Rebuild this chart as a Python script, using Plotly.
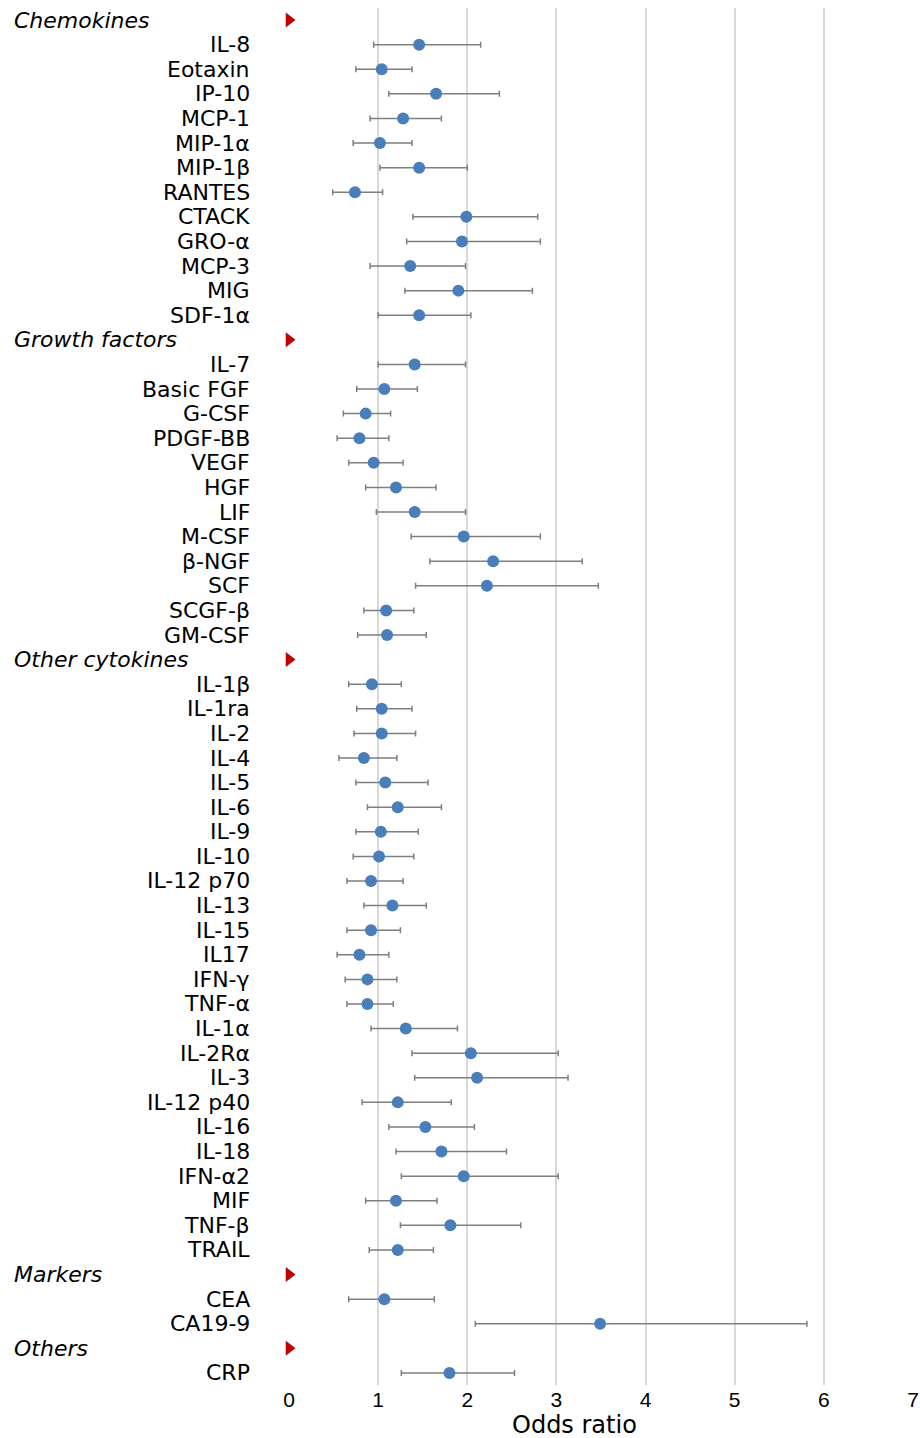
import plotly.graph_objects as go

# ---- data ----
groups = ["Chemokines", "Growth factors", "Other cytokines", "Markers", "Others"]

chemokines = ["IL-8", "Eotaxin", "IP-10", "MCP-1", "MIP-1α", "MIP-1β", "RANTES",
              "CTACK", "GRO-α", "MCP-3", "MIG", "SDF-1α"]
chemokines_or = [1.46, 1.04, 1.65, 1.28, 1.02, 1.46, 0.74, 1.99, 1.94, 1.36, 1.90, 1.46]
chemokines_lo = [0.95, 0.75, 1.12, 0.91, 0.72, 1.02, 0.49, 1.39, 1.32, 0.91, 1.30, 1.00]
chemokines_hi = [2.15, 1.38, 2.36, 1.71, 1.38, 2.00, 1.05, 2.79, 2.82, 1.98, 2.73, 2.04]

growth = ["IL-7", "Basic FGF", "G-CSF", "PDGF-BB", "VEGF", "HGF", "LIF", "M-CSF",
          "β-NGF", "SCF", "SCGF-β", "GM-CSF"]
growth_or = [1.41, 1.07, 0.86, 0.79, 0.95, 1.20, 1.41, 1.96, 2.29, 2.22, 1.09, 1.10]
growth_lo = [1.00, 0.76, 0.61, 0.54, 0.67, 0.86, 0.98, 1.37, 1.58, 1.42, 0.84, 0.77]
growth_hi = [1.98, 1.44, 1.14, 1.12, 1.28, 1.65, 1.98, 2.82, 3.29, 3.47, 1.40, 1.54]

other = ["IL-1β", "IL-1ra", "IL-2", "IL-4", "IL-5", "IL-6", "IL-9", "IL-10", "IL-12 p70",
         "IL-13", "IL-15", "IL17", "IFN-γ", "TNF-α", "IL-1α", "IL-2Rα", "IL-3", "IL-12 p40",
         "IL-16", "IL-18", "IFN-α2", "MIF", "TNF-β", "TRAIL"]
other_or = [0.93, 1.04, 1.04, 0.84, 1.08, 1.22, 1.03, 1.01, 0.92, 1.16, 0.92, 0.79,
            0.88, 0.88, 1.31, 2.04, 2.11, 1.22, 1.53, 1.71, 1.96, 1.20, 1.81, 1.22]
other_lo = [0.67, 0.76, 0.73, 0.56, 0.75, 0.88, 0.75, 0.72, 0.65, 0.84, 0.65, 0.54,
            0.63, 0.65, 0.92, 1.38, 1.41, 0.82, 1.12, 1.20, 1.26, 0.86, 1.25, 0.90]
other_hi = [1.26, 1.38, 1.42, 1.21, 1.56, 1.71, 1.45, 1.40, 1.28, 1.54, 1.25, 1.12,
            1.21, 1.17, 1.89, 3.02, 3.13, 1.82, 2.08, 2.44, 3.02, 1.66, 2.60, 1.62]

markers = ["CEA", "CA19-9"]
markers_or = [1.07, 3.49]
markers_lo = [0.67, 2.09]
markers_hi = [1.63, 5.81]

others = ["CRP"]
others_or = [1.80]
others_lo = [1.26]
others_hi = [2.53]

xticks = [0, 1, 2, 3, 4, 5, 6, 7]
x_title = "Odds ratio"

# ---- build rows ----
sections = [
    (groups[0], chemokines, chemokines_or, chemokines_lo, chemokines_hi),
    (groups[1], growth, growth_or, growth_lo, growth_hi),
    (groups[2], other, other_or, other_lo, other_hi),
    (groups[3], markers, markers_or, markers_lo, markers_hi),
    (groups[4], others, others_or, others_lo, others_hi),
]

hdr_y, hdr_txt = [], []
it_y, it_txt, it_or, it_lo, it_hi = [], [], [], [], []
row = 0
for name, labs, ors, los, his in sections:
    hdr_y.append(row); hdr_txt.append(name); row += 1
    for l, o, lo, hi in zip(labs, ors, los, his):
        it_y.append(row); it_txt.append(l); it_or.append(o); it_lo.append(lo); it_hi.append(hi)
        row += 1
nrows = row

fig = go.Figure()
fig.add_trace(go.Scatter(
    x=it_or, y=it_y, mode="markers",
    marker=dict(color="#4A7EBB", size=12, line=dict(width=0)),
    error_x=dict(type="data", symmetric=False,
                 array=[h - o for h, o in zip(it_hi, it_or)],
                 arrayminus=[o - l for o, l in zip(it_or, it_lo)],
                 color="#7F7F7F", thickness=1.5, width=3),
    showlegend=False, hoverinfo="skip"))
fig.add_trace(go.Scatter(
    x=[0] * len(hdr_y), y=hdr_y, mode="markers",
    marker=dict(symbol="triangle-right", color="#C00000", size=13, line=dict(width=0)),
    showlegend=False, hoverinfo="skip", cliponaxis=False))

annotations = []
for y, t in zip(it_y, it_txt):
    annotations.append(dict(x=-0.059, y=y, xref="paper", yref="y", text=t, showarrow=False,
                            xanchor="right", yanchor="middle",
                            font=dict(family="DejaVu Sans", size=22, color="#000000")))
for y, t in zip(hdr_y, hdr_txt):
    annotations.append(dict(x=-0.444, y=y, xref="paper", yref="y", text="<i>" + t + "</i>",
                            showarrow=False, xanchor="left", yanchor="middle",
                            font=dict(family="DejaVu Sans", size=22, color="#000000")))
annotations.append(dict(x=0.458, y=-0.029, xref="paper", yref="paper", text=x_title,
                        showarrow=False, xanchor="center", yanchor="middle",
                        font=dict(family="DejaVu Sans", size=24, color="#000000")))

fig.update_layout(
    width=920, height=1438,
    margin=dict(l=289, r=7, t=8, b=53, autoexpand=False),
    plot_bgcolor="white", paper_bgcolor="white",
    annotations=annotations,
    xaxis=dict(range=[0, 7], tickvals=xticks, ticktext=[str(v) for v in xticks],
               showgrid=True, gridcolor="#D9D9D9", gridwidth=1.5, zeroline=False,
               showline=False, ticks="", automargin=False,
               tickfont=dict(family="Liberation Sans", size=21, color="#000")),
    yaxis=dict(range=[nrows - 0.51, -0.49], showgrid=False, zeroline=False, automargin=False,
               showticklabels=False, ticks="", showline=False),
)

fig.write_html("out.html", config={"displayModeBar": False},
               post_script="document.body.style.margin='0px';document.body.style.overflow='hidden';")
